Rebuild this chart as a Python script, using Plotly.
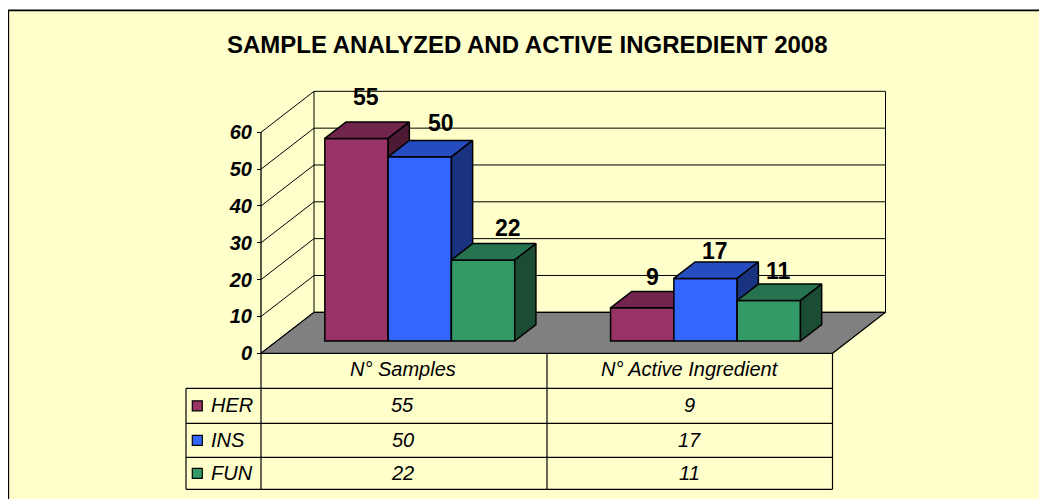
import plotly.graph_objects as go

TITLE = "SAMPLE ANALYZED AND ACTIVE INGREDIENT 2008"
CATEGORIES = ["N° Samples", "N° Active Ingredient"]
SERIES = ["HER", "INS", "FUN"]
HER = [55, 9]
INS = [50, 17]
FUN = [22, 11]
TICKS = [0, 10, 20, 30, 40, 50, 60]

COL_FRONT = ["#993366", "#3366FF", "#339966"]
COL_TOP = ["#73264D", "#264DBF", "#267350"]
COL_SIDE = ["#4D1A33", "#1A3380", "#1A4D33"]
YELLOW = "#FFFFCC"
FONT = "Liberation Sans"
INK = "#000000"

# page geometry (window pixels); the page body adds an 8px margin
OX, OY = 8, 8
W, H = 1039, 491
PX0, CAT_W = 261.0, 285.75
PY0, UNIT = 353.3, 3.683
DX, DY = 53 / CAT_W, 41 / UNIT   # projection of the full depth
D0, D1 = 0.30, 0.70              # bar depth span
BAR_W = 63.3 / CAT_W
XMAX_V = 60


def X(px):
    return (px - PX0) / CAT_W


def Y(py):
    return (PY0 - py) / UNIT


def proj(x, v, d):
    return x + d * DX, v + d * DY


fig = go.Figure()


def poly(points, fill, z=0, width=1.2):
    xs = [p[0] for p in points] + [points[0][0]]
    ys = [p[1] for p in points] + [points[0][1]]
    fig.add_trace(go.Scatter(x=xs, y=ys, mode="lines", fill="toself", fillcolor=fill,
                             line=dict(color=INK, width=width), zorder=z,
                             hoverinfo="skip", showlegend=False))


def seg(points, z=0, width=1.0, color=INK):
    fig.add_trace(go.Scatter(x=[p[0] for p in points], y=[p[1] for p in points], mode="lines",
                             line=dict(color=color, width=width), zorder=z,
                             hoverinfo="skip", showlegend=False))


n_cat = len(CATEGORIES)
# walls and grid
for t in TICKS:
    seg([proj(0, t, 0), proj(0, t, 1), proj(n_cat, t, 1)])
seg([proj(0, 0, 1), proj(0, XMAX_V, 1)])
seg([proj(n_cat, 0, 1), proj(n_cat, XMAX_V, 1)])
seg([(0, 0), (0, XMAX_V)], width=1.3)
# floor
poly([proj(0, 0, 0), proj(0, 0, 1), proj(n_cat, 0, 1), proj(n_cat, 0, 0)], "#808080")

# bars
values = [HER, INS, FUN]
for s, vals in enumerate(values):
    z = s + 1
    for c, v in enumerate(vals):
        left = c + 0.5 + (s - 1.5) * BAR_W
        right = left + BAR_W
        poly([proj(left, v, D0), proj(left, v, D1), proj(right, v, D1), proj(right, v, D0)], COL_TOP[s], z, 1.5)
        poly([proj(right, 0, D0), proj(right, v, D0), proj(right, v, D1), proj(right, 0, D1)], COL_SIDE[s], z, 1.5)
    fig.add_trace(go.Bar(
        x=[proj(c + 0.5 + (s - 1) * BAR_W, 0, D0)[0] for c in range(n_cat)],
        y=vals,
        base=[proj(0, 0, D0)[1]] * n_cat,
        width=BAR_W,
        name=SERIES[s],
        marker=dict(color=COL_FRONT[s], line=dict(color=INK, width=1.5)),
        zorder=z,
        hoverinfo="skip",
        showlegend=False,
    ))

# table
ROWS_PY = [353.3, 388.3, 423.3, 457.3, 489.3]
COLS_PY = [186.0, 261.0, 547.0, 832.5]
for py in ROWS_PY[1:]:
    seg([(X(COLS_PY[0]), Y(py)), (X(COLS_PY[3]), Y(py))], z=5, width=1.2)
seg([(X(COLS_PY[0]), Y(ROWS_PY[1])), (X(COLS_PY[0]), Y(ROWS_PY[4]))], z=5, width=1.2)
for px in COLS_PY[1:]:
    seg([(X(px), Y(ROWS_PY[0])), (X(px), Y(ROWS_PY[4]))], z=5, width=1.2)

TEXT_SIZE = 20
COL_TEXT_NUDGE = [-1.5, 0]
ann = []


def text(px, py, s, size=TEXT_SIZE, bold=False, italic=True, xanchor="center"):
    ann.append(dict(x=X(px), y=Y(py), text=s, showarrow=False, xanchor=xanchor, yanchor="middle",
                    font=dict(family=FONT, size=size, color=INK,
                              style="italic" if italic else "normal",
                              weight="bold" if bold else "normal")))


for c, name in enumerate(CATEGORIES):
    cx = (COLS_PY[c + 1] + COLS_PY[c + 2]) / 2 + COL_TEXT_NUDGE[c]
    text(cx, 369, name)
    for s, vals in enumerate(values):
        text(cx, (ROWS_PY[s + 1] + ROWS_PY[s + 2]) / 2 - 0.5, str(vals[c]))

for s, name in enumerate(SERIES):
    cy = (ROWS_PY[s + 1] + ROWS_PY[s + 2]) / 2
    text(208.5, cy - 0.5, name, xanchor="left")
    fig.add_trace(go.Scatter(x=[X(197.3)], y=[Y(cy)], mode="markers", zorder=5,
                             marker=dict(symbol="square", size=10, color=COL_FRONT[s],
                                         line=dict(color=INK, width=1.2)),
                             hoverinfo="skip", showlegend=False))

# data labels: hand-placed offsets from the front-top centre of each bar, as in the picture
LABEL_SHIFT = [
    [(9.5, 41), (10.5, 31)],
    [(21.5, 34), (9.5, 27)],
    [(25, 32), (9.5, 29)],
]
for s, vals in enumerate(values):
    for c, v in enumerate(vals):
        bx, by = proj(c + 0.5 + (s - 1) * BAR_W, v, D0)
        sx, sy = LABEL_SHIFT[s][c]
        ann.append(dict(x=bx, y=by, text=str(v), showarrow=False, xshift=sx, yshift=sy,
                        xanchor="center", yanchor="middle",
                        font=dict(family=FONT, size=23, color=INK, weight="bold")))

ann.append(dict(xref="paper", yref="paper", x=(527 - OX) / W, y=1 - (45 - OY) / H, text=TITLE,
                showarrow=False, xanchor="center", yanchor="middle",
                font=dict(family=FONT, size=24, color=INK, weight="bold")))

shapes = [
    dict(type="rect", xref="paper", yref="paper", x0=0, x1=1, y0=1, y1=1 - 1.5 / H,
         fillcolor="#FFFFFF", line_width=0, layer="below"),
    dict(type="line", xref="paper", yref="paper", x0=0, x1=1, y0=1 - 1.5 / H, y1=1 - 1.5 / H,
         line=dict(color="#AAAAAA", width=1), layer="below"),
    dict(type="line", xref="paper", yref="paper", x0=0, x1=1, y0=1 - 2.5 / H, y1=1 - 2.5 / H,
         line=dict(color=INK, width=1.3), layer="below"),
    dict(type="line", xref="paper", yref="paper", x0=0.5 / W, x1=0.5 / W, y0=0, y1=1 - 2 / H,
         line=dict(color=INK, width=1.3), layer="below"),
]

fig.update_layout(
    width=W, height=H, autosize=False,
    margin=dict(l=0, r=0, t=0, b=0),
    paper_bgcolor=YELLOW, plot_bgcolor="rgba(0,0,0,0)",
    barmode="overlay", showlegend=False,
    annotations=ann, shapes=shapes,
    xaxis=dict(range=[X(OX), X(OX + W)], domain=[0, 1], visible=False, fixedrange=True),
    yaxis=dict(range=[Y(OY + H), Y(OY)], domain=[0, 1], anchor="free", position=(PX0 - OX) / W,
               tickmode="array", tickvals=TICKS, ticktext=[str(t) for t in TICKS],
               showgrid=False, zeroline=False, showline=False,
               ticks="outside", ticklen=4, tickcolor=INK, tickwidth=1,
               ticklabelstandoff=1,
               tickfont=dict(family=FONT, size=20, color=INK, style="italic", weight="bold"),
               fixedrange=True),
)
fig.write_html("out.html", config=dict(displayModeBar=False))
